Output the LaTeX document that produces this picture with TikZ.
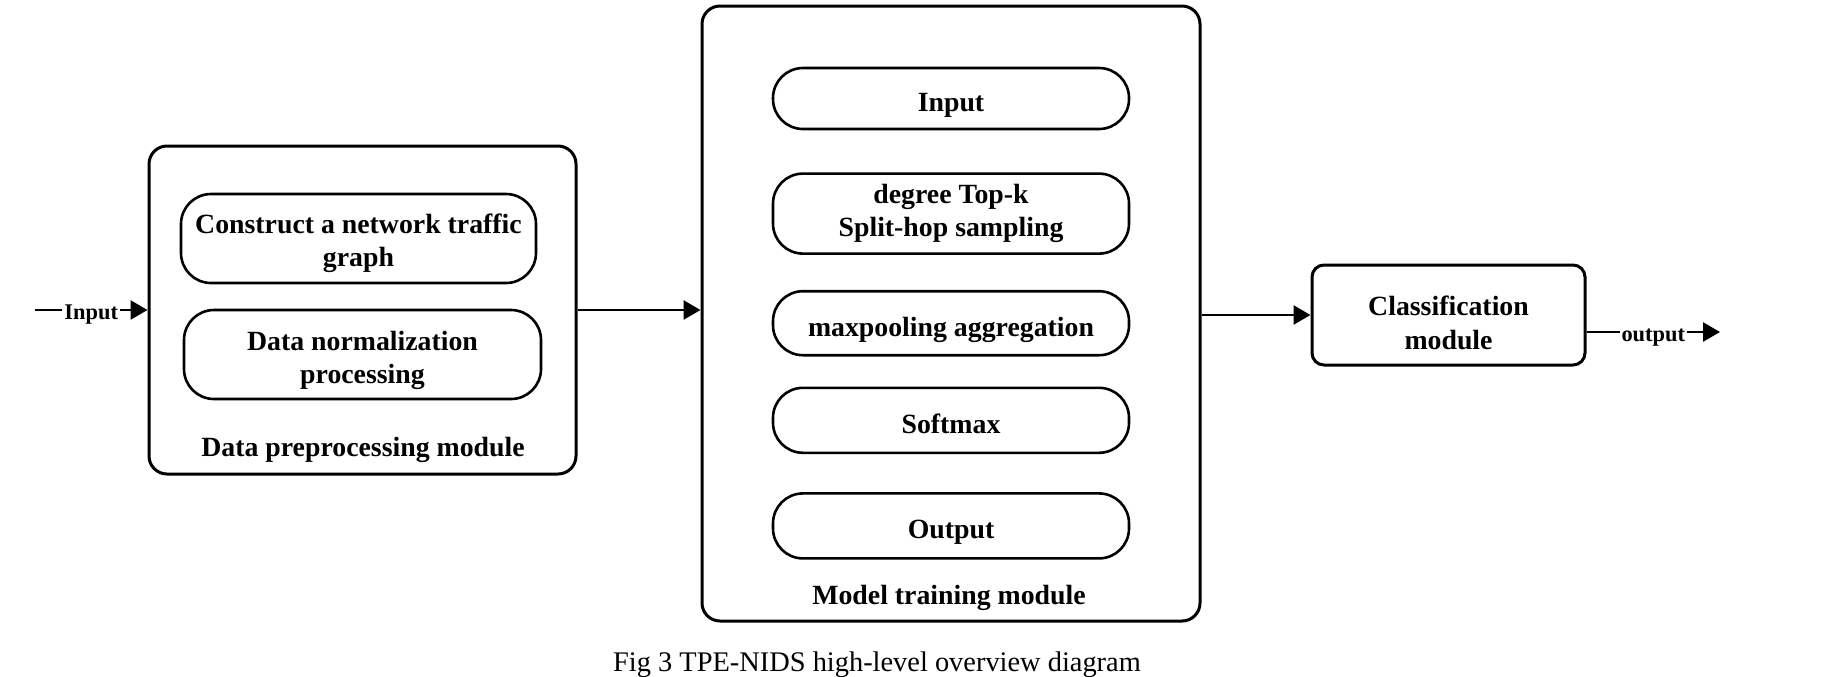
\documentclass[tikz,border=0pt]{standalone}
\usepackage{fontspec}
\setmainfont{Liberation Serif}
\usepackage{tikz}
\usetikzlibrary{arrows.meta,positioning}
\tikzset{
	modblock/.style = {
		rectangle,
		draw = black,
		line width = 1.5pt,
		rounded corners = 9pt,
	},
	subblock/.style = {
		rectangle,
		align = center,
		draw = black,
		line width = 1.3pt,
		rounded corners = 15pt,
		inner sep = 0pt,
		font = \bfseries\fontsize{13.9}{16.5}\selectfont,
	},
	oneline/.style = {
		text height = 13pt,
		text depth = 0pt,
	},
	lowertext/.style = {
		execute at begin node = {\rule{0pt}{#1}},
	},
	modlabel/.style = {
		font = \bfseries\fontsize{13.9}{16.5}\selectfont,
	},
	flowarrow/.style = {
		line width = 1.35pt,
		-{Triangle[length=8.5pt,width=9.5pt]},
	},
	pinlabel/.style = {
		fill = white,
		inner sep = 1pt,
		text height = 9.3pt,
		text depth = 0pt,
		font = \bfseries\fontsize{11.2}{13}\selectfont,
	}
}

\begin{document}
\begin{tikzpicture}[x=1pt, y=-1pt]
	\useasboundingbox (0,0) rectangle (920,338);

	% data preprocessing module
	\node[modblock, minimum width = 213.5pt, minimum height = 164pt] (preblock) at (181.25,155) {};
	\node[subblock, lowertext = 31.3pt, minimum width = 177.5pt, minimum height = 44.5pt] (graphblock) at (179.25,119.25) {Construct a network traffic\\graph};
	\node[subblock, lowertext = 31.9pt, minimum width = 178.5pt, minimum height = 44.5pt] (normblock) at (181.25,177.25) {Data normalization\\processing};
	\node[modlabel] (prelabel) at (181.5,225.2) {Data preprocessing module};

	% model training module
	\node[modblock, minimum width = 249pt, minimum height = 307.5pt] (trainblock) at (475.5,156.75) {};
	\node[subblock, oneline, minimum width = 178pt, minimum height = 30.5pt] (inblock) at (475.5,49.25) {Input};
	\node[subblock, minimum width = 178pt, minimum height = 40pt, below = 21pt of inblock] (topkblock) {degree Top-k\\Split-hop sampling};
	\node[subblock, oneline, minimum width = 178pt, minimum height = 32pt, below = 17.5pt of topkblock] (poolblock) {maxpooling aggregation};
	\node[subblock, oneline, minimum width = 178pt, minimum height = 32.5pt, below = 15pt of poolblock] (softblock) {Softmax};
	\node[subblock, oneline, minimum width = 178pt, minimum height = 32.5pt, below = 19pt of softblock] (outblock) {Output};
	\node[modlabel] (trainlabel) at (474.5,298.8) {Model training module};

	% classification module
	\node[modblock, rounded corners = 6pt, align = center, lowertext = 34.5pt, font = \bfseries\fontsize{13.9}{17}\selectfont, minimum width = 136.5pt, minimum height = 50pt] (classblock) at (724.25,157.5) {Classification\\module};

	\coordinate (instart) at (17.5,155);
	\coordinate (outend) at (860,166);

	\draw[flowarrow] (instart) -- node[pinlabel] {Input} (preblock.west);
	\draw[flowarrow] (preblock.east) -- (trainblock.west |- preblock.east);
	\draw[flowarrow] (trainblock.east |- classblock.west) -- (classblock.west);
	\draw[flowarrow] (classblock.east |- outend) -- node[pinlabel] {output} (outend);

	\node[font = \fontsize{14.2}{17}\selectfont] (caption) at (438.5,332.2) {Fig 3 TPE-NIDS high-level overview diagram};
\end{tikzpicture}
\end{document}
